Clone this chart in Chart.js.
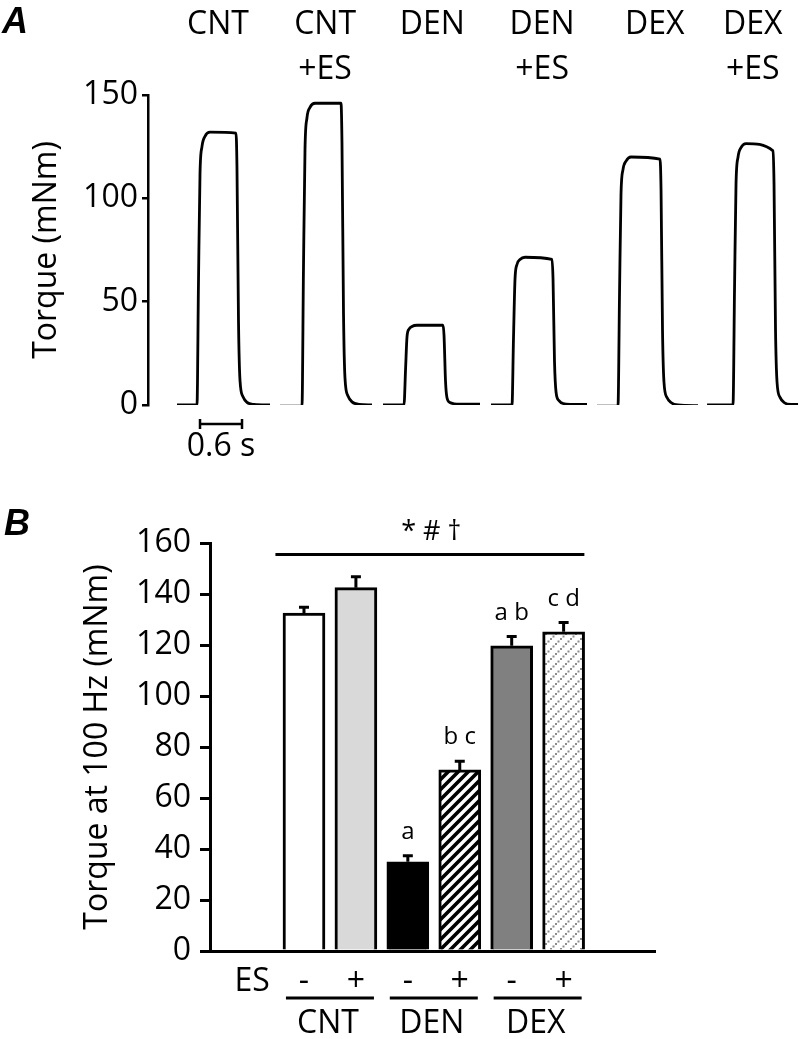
<!DOCTYPE html>
<html>
<head>
<meta charset="utf-8">
<script src="https://cdn.jsdelivr.net/npm/chart.js@4.4.0/dist/chart.umd.min.js"></script>
<style>
  body { margin: 0; background: #fff; }
  #wrap { position: relative; width: 800px; height: 1039px; }
  canvas { position: absolute; left: 0; }
  #chartA { top: 0; }
  #chartB { top: 480px; }
</style>
</head>
<body>
<div id="wrap">
  <canvas id="chartA" width="800" height="470"></canvas>
  <canvas id="chartB" width="800" height="559"></canvas>
</div>
<script>
// ---- panel A : torque records (time in s, torque in mNm) ----
const traceNames = [["CNT"], ["CNT", "+ES"], ["DEN"], ["DEN", "+ES"], ["DEX"], ["DEX", "+ES"]];

const cntTime = [0.414, 0.700, 0.721, 0.743, 0.771, 0.814, 0.886, 1.257, 1.271, 1.293, 1.314, 1.357, 1.414, 1.514, 1.743];
const cntTorque = [0, 0, 59, 112, 125, 130, 132, 131.5, 115, 40, 12, 4, 1.3, 0.3, 0];

const cntEsTime = [1.886, 2.200, 2.221, 2.243, 2.271, 2.314, 2.386, 2.757, 2.771, 2.793, 2.814, 2.857, 2.914, 3.014, 3.200];
const cntEsTorque = [-0.5, -0.5, 66, 124, 139, 144, 146, 146, 127, 44, 13, 4.4, 1.5, 0.3, 0];

const denTime = [3.357, 3.657, 3.679, 3.700, 3.729, 3.771, 3.843, 4.214, 4.229, 4.250, 4.271, 4.314, 4.371, 4.471, 4.743];
const denTorque = [0, 0, 17, 33, 36.7, 38, 38.6, 38.6, 33.6, 11.6, 3.5, 1.2, 0.6, 0.4, 0.4];

const denEsTime = [4.900, 5.200, 5.221, 5.243, 5.271, 5.314, 5.386, 5.771, 5.786, 5.807, 5.829, 5.871, 5.929, 6.029, 6.271];
const denEsTorque = [0, 0, 32, 61, 68, 70.4, 71.5, 70.5, 61, 21, 6.3, 2.1, 0.7, 0.3, 0.3];

const dexTime = [6.414, 6.714, 6.736, 6.757, 6.786, 6.829, 6.900, 7.314, 7.329, 7.350, 7.371, 7.414, 7.471, 7.571, 7.857];
const dexTorque = [-0.5, -0.5, 54, 102, 114, 118, 120, 119, 104, 36, 11, 3.6, 1.2, 0, -0.3];

const dexEsTime = [7.986, 8.357, 8.379, 8.400, 8.429, 8.471, 8.543, 8.929, 8.943, 8.964, 8.986, 9.029, 9.086, 9.186, 9.286];
const dexEsTorque = [0, 0, 57, 107, 120, 124.5, 126.5, 123, 107, 37, 11, 3.7, 1.2, 0.3, 0.3];

const traceTimes = [cntTime, cntEsTime, denTime, denEsTime, dexTime, dexEsTime];
const traceTorques = [cntTorque, cntEsTorque, denTorque, denEsTorque, dexTorque, dexEsTorque];

// ---- panel B : torque at 100 Hz ----
const groups = ["CNT", "DEN", "DEX"];
const esLabels = ["-", "+"];
const torque100 = [132.5, 142.5, 35, 71, 119.7, 125.2];
const torqueSem = [2.3, 4.3, 2.4, 3.4, 3.6, 3.6];
const sigLetters = ["", "", "a", "b c", "a b", "c d"];
const overallSig = "* # \u2020";

// layout helpers (positions only)
const labelAt = [1.0, 2.53, 4.06, 5.63, 7.24, 8.64];   // s, centre of the top labels
const scaleBarStart = 0.743, scaleBarLen = 0.6;

Chart.defaults.font.family = "'Open Sans', sans-serif";
Chart.defaults.color = "#000";

// hatch patterns
function makeStripes() {
  const c = document.createElement("canvas");
  c.width = 10; c.height = 10;
  const g = c.getContext("2d");
  g.fillStyle = "#fff"; g.fillRect(0, 0, 10, 10);
  g.strokeStyle = "#000"; g.lineWidth = 3.6;
  g.beginPath();
  g.moveTo(-5, 5); g.lineTo(5, -5);
  g.moveTo(0, 10); g.lineTo(10, 0);
  g.moveTo(5, 15); g.lineTo(15, 5);
  g.stroke();
  return g.createPattern(c, "repeat");
}
function makeDots() {
  const c = document.createElement("canvas");
  c.width = 10; c.height = 10;
  const g = c.getContext("2d");
  g.fillStyle = "#fff"; g.fillRect(0, 0, 10, 10);
  g.fillStyle = "#8c8c8c";
  for (let k = 0; k < 4; k++) g.fillRect(k * 2.5, 8 - k * 2.5, 2, 2);
  return g.createPattern(c, "repeat");
}

// ---------- chart A ----------
const panelAPlugin = {
  id: "panelA",
  afterDraw(chart) {
    const { ctx } = chart;
    const x = chart.scales.x, y = chart.scales.y;
    ctx.save();
    ctx.fillStyle = "#000";
    ctx.font = "italic bold 36px 'Liberation Sans'";
    ctx.textAlign = "left";
    ctx.fillText("A", 2, 33);

    ctx.font = "32px 'Open Sans'";
    ctx.textAlign = "center";
    traceNames.forEach((lines, i) => {
      const cx = x.getPixelForValue(labelAt[i]);
      lines.forEach((t, j) => ctx.fillText(t, cx, 34 + j * 45));
    });

    // 0.6 s scale bar
    const x0 = x.getPixelForValue(scaleBarStart);
    const x1 = x.getPixelForValue(scaleBarStart + scaleBarLen);
    const yb = y.bottom + 19;
    ctx.strokeStyle = "#000";
    ctx.lineWidth = 2.5;
    ctx.beginPath();
    ctx.moveTo(x0, yb); ctx.lineTo(x1, yb);
    ctx.moveTo(x0, yb - 5); ctx.lineTo(x0, yb + 5);
    ctx.moveTo(x1, yb - 5); ctx.lineTo(x1, yb + 5);
    ctx.stroke();
    ctx.fillText(scaleBarLen + " s", (x0 + x1) / 2, yb + 32);
    ctx.restore();
  }
};

new Chart(document.getElementById("chartA"), {
  type: "line",
  data: {
    datasets: traceTimes.map((ts, i) => ({
      data: ts.map((t, k) => ({ x: t, y: traceTorques[i][k] })),
      borderColor: "#000",
      borderWidth: 2.8,
      pointRadius: 0,
      cubicInterpolationMode: "monotone",
      fill: false
    }))
  },
  options: {
    responsive: false,
    animation: false,
    layout: { padding: { top: 95, bottom: 65, left: 0, right: 0 } },
    plugins: { legend: { display: false }, tooltip: { enabled: false } },
    scales: {
      x: { type: "linear", min: 0, max: 9.314, display: false },
      y: {
        min: 0, max: 150,
        ticks: { stepSize: 50, font: { size: 32 }, padding: 4, color: "#000" },
        grid: { drawOnChartArea: false, tickLength: 6, color: "#000", lineWidth: 2.5 },
        border: { display: true, color: "#000", width: 2.5 },
        title: { display: true, text: "Torque (mNm)", font: { size: 32 }, padding: { top: 28, bottom: 0 } },
        afterFit(scale) { scale.width = 148; }
      }
    }
  },
  plugins: [panelAPlugin]
});

// ---------- chart B ----------
const panelBPlugin = {
  id: "panelB",
  afterDraw(chart) {
    const { ctx } = chart;
    const x = chart.scales.x, y = chart.scales.y;
    ctx.save();
    ctx.strokeStyle = "#000";
    ctx.fillStyle = "#000";
    ctx.lineWidth = 3;

    // error bars + letters
    ctx.textAlign = "center";
    ctx.font = "24px 'Open Sans'";
    torque100.forEach((v, i) => {
      const px = x.getPixelForValue(i);
      const base = y.getPixelForValue(v);
      const top = y.getPixelForValue(v + torqueSem[i]);
      ctx.beginPath();
      ctx.moveTo(px, base); ctx.lineTo(px, top);
      ctx.moveTo(px - 5, top); ctx.lineTo(px + 5, top);
      ctx.stroke();
      if (sigLetters[i]) ctx.fillText(sigLetters[i], px, top - 17);
    });

    // overall significance line
    const sy = y.getPixelForValue(155.5);
    ctx.beginPath();
    ctx.moveTo(x.getPixelForValue(-0.55), sy);
    ctx.lineTo(x.getPixelForValue(5.4), sy);
    ctx.stroke();
    ctx.font = "27px 'Open Sans'";
    ctx.fillText(overallSig, x.getPixelForValue(2.45), sy - 14);

    // group underlines and names
    ctx.font = "32px 'Open Sans'";
    groups.forEach((g, k) => {
      const cx = x.getPixelForValue(2 * k + 0.5);
      const ly = y.bottom + 47;
      ctx.beginPath();
      ctx.moveTo(cx - 44, ly); ctx.lineTo(cx + 44, ly);
      ctx.stroke();
      ctx.fillText(g, cx - 2, y.bottom + 82);
    });

    ctx.textAlign = "left";
    ctx.font = "italic bold 36px 'Liberation Sans'";
    ctx.fillText("B", 4, 55);
    ctx.restore();
  }
};

new Chart(document.getElementById("chartB"), {
  type: "bar",
  data: {
    datasets: [{
      data: torque100.map((v, i) => ({ x: i, y: v })),
      backgroundColor: ["#ffffff", "#d9d9d9", "#000000", makeStripes(), "#808080", makeDots()],
      borderColor: "#000",
      borderWidth: 3,
      barThickness: 42
    }]
  },
  options: {
    responsive: false,
    animation: false,
    layout: { padding: { top: 63, bottom: 0, left: 0, right: 145 } },
    plugins: { legend: { display: false }, tooltip: { enabled: false } },
    scales: {
      x: {
        type: "linear", min: -1.81, max: 6.76, z: 1, offset: false,
        afterBuildTicks(scale) {
          scale.ticks = [-1, 0, 1, 2, 3, 4, 5].map(v => ({ value: v }));
        },
        ticks: {
          font: { size: 32 }, padding: 12, color: "#000", autoSkip: false, maxRotation: 0,
          callback: v => (v === -1 ? "ES" : esLabels[((v % 2) + 2) % 2])
        },
        grid: { drawOnChartArea: false, drawTicks: false, offset: false },
        border: { display: true, color: "#000", width: 3 },
        afterFit(scale) {
          scale.height = 88;
          scale.paddingLeft = 0;
          scale.paddingRight = 0;
        }
      },
      y: {
        min: 0, max: 160,
        ticks: { stepSize: 20, font: { size: 32 }, padding: 9, color: "#000" },
        grid: { drawOnChartArea: false, tickLength: 10, color: "#000", lineWidth: 3 },
        border: { display: true, color: "#000", width: 3 },
        title: { display: true, text: "Torque at 100 Hz (mNm)", font: { size: 32 }, padding: { top: 79, bottom: 0 } },
        afterFit(scale) { scale.width = 210; }
      }
    }
  },
  plugins: [panelBPlugin]
});
</script>
</body>
</html>
